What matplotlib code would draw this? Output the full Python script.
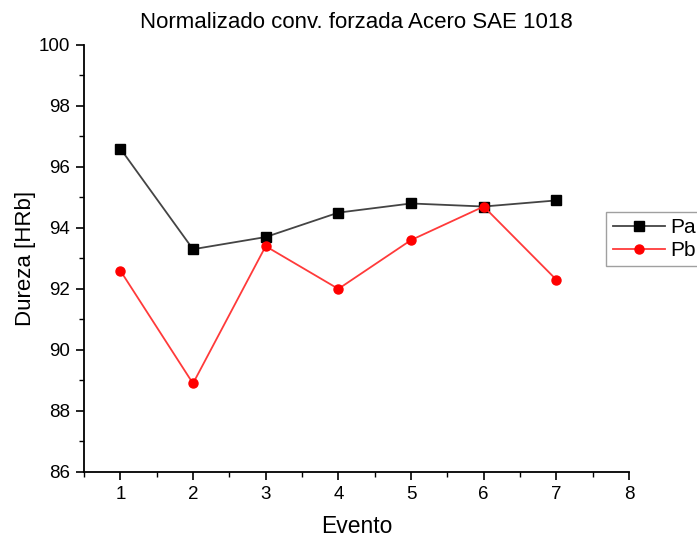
import matplotlib
matplotlib.use("Agg")
import matplotlib.pyplot as plt
from matplotlib.ticker import MultipleLocator

plt.rcParams['font.family'] = ['Liberation Sans', 'DejaVu Sans']

evento = [1, 2, 3, 4, 5, 6, 7]
pa = [96.6, 93.3, 93.7, 94.5, 94.8, 94.7, 94.9]
pb = [92.6, 88.9, 93.4, 92.0, 93.6, 94.7, 92.3]

fig = plt.figure(figsize=(6.97, 5.4), dpi=100)
ax = fig.add_axes([0.1205, 0.126, 0.782, 0.791])

ax.plot(evento, pa, color='#444444', lw=1.3, marker='s', ms=6.5,
        mfc='black', mec='black', label='Pa')
ax.plot(evento, pb, color='#ff3a3a', lw=1.3, marker='o', ms=6.5,
        mfc='red', mec='red', label='Pb')

ax.set_xlim(0.5, 8)
ax.set_ylim(86, 100)
ax.xaxis.set_major_locator(MultipleLocator(1))
ax.xaxis.set_minor_locator(MultipleLocator(0.5))
ax.yaxis.set_major_locator(MultipleLocator(2))
ax.yaxis.set_minor_locator(MultipleLocator(1))
ax.tick_params(which='major', direction='out', length=6, width=1.2,
               labelsize=13.5, pad=4)
ax.tick_params(which='minor', direction='out', length=3.5, width=1.0)
for s in ['top', 'right']:
    ax.spines[s].set_visible(False)
for s in ['left', 'bottom']:
    ax.spines[s].set_linewidth(1.3)

ax.set_xlabel('Evento', fontsize=16.5, labelpad=9)
ax.set_ylabel('Dureza [HRb]', fontsize=16, labelpad=2)
ax.set_title('Normalizado conv. forzada Acero SAE 1018', fontsize=16, pad=12)

leg = fig.legend(loc='upper left', bbox_to_anchor=(0.870, 0.608), fontsize=15,
                 frameon=True, fancybox=False, borderpad=0.3, handlelength=2.5,
                 handletextpad=0.25, labelspacing=0.2, borderaxespad=0)
leg.get_frame().set_edgecolor('#888888')
leg.get_frame().set_linewidth(1.0)

fig.savefig('out.png', dpi=100)
